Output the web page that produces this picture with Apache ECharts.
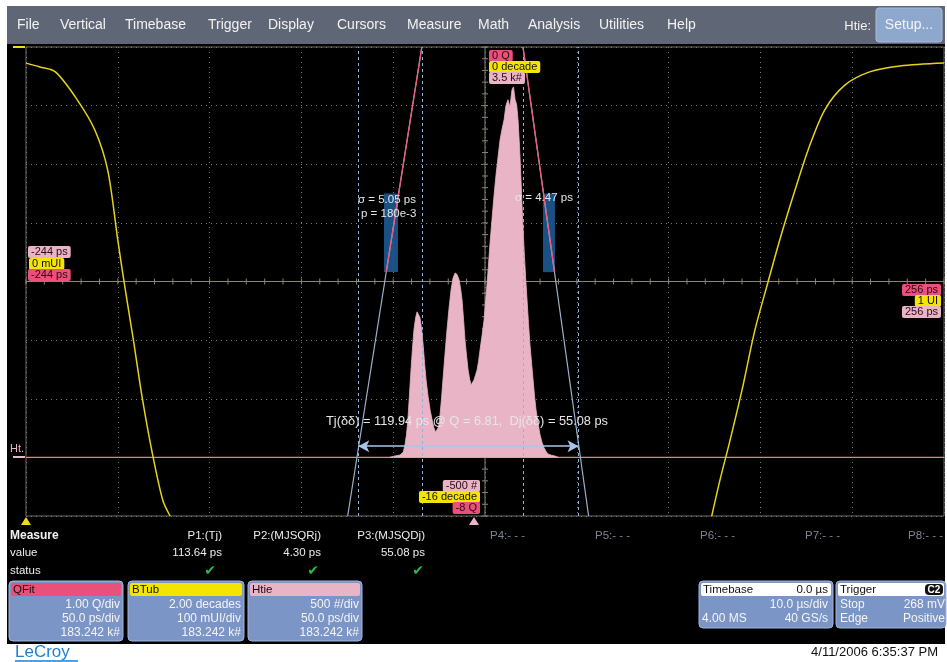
<!DOCTYPE html>
<html><head><meta charset="utf-8">
<script src="https://cdn.jsdelivr.net/npm/echarts@6/dist/echarts.min.js"></script>
<style>html,body{margin:0;padding:0;background:#fff}#c{width:947px;height:662px}</style>
</head><body><div id="c"></div>
<script>
const FONT = '"Liberation Sans", Arial, sans-serif';

// ---- Htie histogram: time interval error (ps) vs counts (#)
const htiePs = [-46, -43, -40.3, -38.5, -37.6, -36.8, -36.0, -35.2, -34.3, -33.5, -32.7, -31.8, -31.0, -30.2, -29.4, -28.5, -27.7, -26.9, -26.1, -25.0, -23.9, -22.8, -21.8, -20.9, -20.1, -19.3, -18.5, -17.7, -16.9, -15.8, -14.7, -13.6, -12.5, -11.4, -10.3, -9.2, -8.1, -7.3, -6.5, -5.7, -4.9, -4.0, -3.2, -2.4, -1.6, -0.8, 0.0, 0.8, 1.7, 2.5, 3.3, 4.4, 5.5, 6.6, 7.7, 8.7, 9.8, 10.9, 12.0, 13.1, 14.2, 15.3, 16.4, 17.4, 18.5, 19.6, 20.7, 21.5, 22.4, 23.2, 24.0, 24.8, 25.6, 26.4, 27.3, 28.1, 28.9, 29.7, 30.5, 31.4, 32.2, 33.0, 33.8, 34.9, 36.0, 37.1, 38.2, 39.3, 40.3, 42.2, 44.1, 46];
const htieCount = [0, 12, 20, 45, 106, 190, 319, 520, 746, 930, 1087, 1190, 1241, 1235, 1190, 1090, 960, 800, 660, 520, 404, 320, 251, 215, 208, 260, 362, 500, 660, 880, 1087, 1270, 1428, 1530, 1573, 1560, 1513, 1440, 1343, 1180, 1002, 860, 746, 670, 618, 625, 660, 700, 746, 820, 917, 1040, 1172, 1380, 1599, 1820, 2026, 2230, 2410, 2560, 2708, 2800, 2880, 3000, 3050, 2990, 3135, 3160, 3050, 3010, 2880, 2650, 2367, 2060, 1769, 1540, 1343, 1140, 960, 800, 660, 520, 404, 290, 191, 125, 80, 50, 29, 18, 12, 0];

// ---- BTub bathtub curve: UI vs log10(BER) decades
const btubLeftUI   = [0.000, 0.015, 0.032, 0.056, 0.075, 0.089, 0.100, 0.107, 0.117, 0.127, 0.138, 0.149, 0.157];
const btubLeftDec  = [-0.55, -0.68, -0.85, -1.81, -2.83, -4.20, -6.59, -8.05, -10.0, -12.04, -13.92, -15.46, -16.0];
const btubRightUI  = [0.747, 0.756, 0.767, 0.780, 0.794, 0.808, 0.821, 0.836, 0.852, 0.870, 0.892, 0.919, 0.952, 1.000];
const btubRightDec = [-16.0, -14.77, -13.41, -11.70, -9.66, -8.05, -6.59, -5.05, -3.51, -2.15, -1.30, -0.85, -0.65, -0.55];

// ---- QFit: Q-scale fitted lines (ps, Q)
const fitLeftPs  = [-68.8, -28.4];  const fitLeftQ  = [-8, 0];
const fitRightPs = [26.68, 62.44];  const fitRightQ = [0, -8];
const qLeftPs  = [-28.4, -47.8];    const qLeftQ  = [0, -3.84];
const qRightPs = [26.68, 43.9];     const qRightQ = [0, -3.84];
const fitRegionLeft  = [-49.0, -41.4, -2.5, -3.84];
const fitRegionRight = [37.6, 44.1, -2.5, -3.84];
const cursorPs = [-63.0, -28.4, 26.68, 56.94];
const tjSpanPs = [-63.0, 56.94];
const tjQ = -6.81;
const histZero = 0;
const psRange = [-244, 256];

// ---- Measurement table
const measNames  = ['P1:(Tj)', 'P2:(MJSQRj)', 'P3:(MJSQDj)'];
const measValues = ['113.64 ps', '4.30 ps', '55.08 ps'];
const emptyParams = ['P4:- - -', 'P5:- - -', 'P6:- - -', 'P7:- - -', 'P8:- - -'];
const menuItems = ['File', 'Vertical', 'Timebase', 'Trigger', 'Display', 'Cursors', 'Measure', 'Math', 'Analysis', 'Utilities', 'Help'];

const pair = (xs, ys) => xs.map((x, i) => [x, ys[i]]);

const HOT = '#e9507a', LPINK = '#e8b4c6', YEL = '#f5e400';

function txt(x, y, text, o) {
  o = o || {};
  return {type: 'text', x: x, y: y, z: o.z || 100, silent: true, style: {
    text: text, fill: o.fill || '#ececec', font: (o.bold ? 'bold ' : '') + (o.size || 12) + 'px ' + (o.family || FONT),
    align: o.align || 'left', textAlign: o.align || 'left', verticalAlign: 'middle', textVerticalAlign: 'middle',
    backgroundColor: o.bg, padding: o.bg ? [1, 3, 0, 3] : 0, borderRadius: o.bg ? 2 : 0
  }};
}
function rect(x, y, w, h, fill, o) {
  o = o || {};
  return {type: 'rect', z: o.z || 90, silent: true, shape: {x: x, y: y, width: w, height: h, r: o.r || 0},
    style: {fill: fill, stroke: o.stroke || null, lineWidth: o.stroke ? 1 : 0}};
}

const g = [];
// screen background
g.push(rect(7, 44, 938, 600, '#000', {z: -10}));
// menu bar
g.push(rect(7, 6, 938, 38, '#5f6777', {z: 90}));
const menuX = [17, 60, 125, 208, 268, 337, 407, 478, 528, 599, 667];
menuItems.forEach((m, i) => g.push(txt(menuX[i], 25, m, {size: 14, fill: '#f2f2f2'})));
g.push(txt(871, 26, 'Htie:', {size: 13, fill: '#f2f2f2', align: 'right'}));
g.push(rect(876, 8, 66, 34, '#8ea7cd', {r: 3, stroke: '#a8bcdc'}));
g.push(txt(909, 25, 'Setup...', {size: 14, fill: '#f4f4f4', align: 'center'}));

// trace markers
g.push(rect(13, 46, 12, 2, '#f0dc1a', {z: 101}));
g.push({type: 'text', x: 8, y: 61, z: 101, style: {text: 'BT.', font: 'bold 11px ' + FONT, verticalAlign: 'middle', textVerticalAlign: 'middle',
  fill: {type: 'linear', x: 0, y: 0, x2: 0, y2: 1, colorStops: [{offset: 0, color: '#f4e03a'}, {offset: 1, color: '#e8405a'}]}}});
g.push(txt(10, 449, 'Ht.', {size: 11, fill: LPINK}));
g.push(rect(13, 456, 12, 2, LPINK, {z: 101}));
g.push({type: 'polygon', z: 101, shape: {points: [[26, 517], [21, 525], [31, 525]]}, style: {fill: '#f0dc1a'}});
g.push({type: 'polygon', z: 101, shape: {points: [[474, 517], [469, 525], [479, 525]]}, style: {fill: LPINK}});

// scale tags
g.push(txt(28, 252, '-244 ps', {size: 11, fill: '#2a0a14', bg: LPINK}));
g.push(txt(29, 264, '0 mUI', {size: 11, fill: '#111', bg: YEL}));
g.push(txt(28, 275, '-244 ps', {size: 11, fill: '#2a0a14', bg: HOT}));
g.push(txt(941, 290, '256 ps', {size: 11, fill: '#2a0a14', bg: HOT, align: 'right'}));
g.push(txt(941, 301, '1 UI', {size: 11, fill: '#111', bg: YEL, align: 'right'}));
g.push(txt(941, 312, '256 ps', {size: 11, fill: '#2a0a14', bg: LPINK, align: 'right'}));
g.push(txt(489, 56, '0 Q', {size: 11, fill: '#2a0a14', bg: HOT}));
g.push(txt(489, 67, '0 decade', {size: 11, fill: '#111', bg: YEL}));
g.push(txt(489, 78, '3.5 k#', {size: 11, fill: '#2a0a14', bg: LPINK}));
g.push(txt(480, 486, '-500 #', {size: 11, fill: '#2a0a14', bg: LPINK, align: 'right'}));
g.push(txt(480, 497, '-16 decade', {size: 11, fill: '#111', bg: YEL, align: 'right'}));
g.push(txt(480, 508, '-8 Q', {size: 11, fill: '#2a0a14', bg: HOT, align: 'right'}));

// annotations
g.push(txt(358, 200, '\u03c3 = 5.05 ps', {size: 11.5, fill: '#e6e6e6'}));
g.push(txt(361, 214, 'p = 180e-3', {size: 11.5, fill: '#e6e6e6'}));
g.push(txt(515, 198, '\u03c3 = 4.47 ps', {size: 11.5, fill: '#e6e6e6'}));
g.push(txt(467, 421, 'Tj(\u03b4\u03b4) = 119.94 ps @ Q = 6.81,  Dj(\u03b4\u03b4) = 55.08 ps', {size: 12.8, fill: '#e6e6e6', align: 'center'}));

// measure table
g.push(txt(10, 536, 'Measure', {size: 12, bold: true, fill: '#f2f2f2'}));
g.push(txt(10, 553, 'value', {size: 11.5}));
g.push(txt(10, 571, 'status', {size: 11.5}));
const measRight = [222, 321, 425];
const checkX = [210, 313, 418];
measNames.forEach((n, i) => {
  g.push(txt(measRight[i], 536, n, {size: 11.5, align: 'right'}));
  g.push(txt(measRight[i], 553, measValues[i], {size: 11.5, align: 'right'}));
  g.push(txt(checkX[i], 571, '\u2714', {size: 14, fill: '#35b24a', align: 'center', family: '"DejaVu Sans", sans-serif'}));
});
const emptyX = [490, 595, 700, 805, 908];
emptyParams.forEach((p, i) => g.push(txt(emptyX[i], 536, p, {size: 11.5, fill: '#7c8595'})));

// trace descriptor panels
function panel(x, w, color, title, lines) {
  g.push(rect(x, 581, w, 60, '#7b95c7', {r: 4, stroke: '#a3b6dc'}));
  g.push(rect(x + 2, 583, w - 4, 13, color, {r: 2, z: 91}));
  g.push(txt(x + 4, 590, title, {size: 11.5, fill: '#111'}));
  lines.forEach((l, i) => g.push(txt(x + w - 3, 605 + i * 14, l, {size: 12, fill: '#f4f4f4', align: 'right'})));
}
panel(9, 114, HOT, 'QFit', ['1.00 Q/div', '50.0 ps/div', '183.242 k#']);
panel(128, 116, YEL, 'BTub', ['2.00 decades', '100 mUI/div', '183.242 k#']);
panel(248, 114, LPINK, 'Htie', ['500 #/div', '50.0 ps/div', '183.242 k#']);

// timebase / trigger
g.push(rect(699, 581, 134, 47, '#7b95c7', {r: 4, stroke: '#a3b6dc'}));
g.push(rect(701, 583, 130, 13, '#fff', {r: 2, z: 91}));
g.push(txt(703, 590, 'Timebase', {size: 11.5, fill: '#111'}));
g.push(txt(828, 590, '0.0 \u00b5s', {size: 11.5, fill: '#111', align: 'right'}));
g.push(txt(828, 605, '10.0 \u00b5s/div', {size: 12, fill: '#f4f4f4', align: 'right'}));
g.push(txt(702, 619, '4.00 MS', {size: 12, fill: '#f4f4f4'}));
g.push(txt(828, 619, '40 GS/s', {size: 12, fill: '#f4f4f4', align: 'right'}));
g.push(rect(836, 581, 110, 47, '#7b95c7', {r: 4, stroke: '#a3b6dc'}));
g.push(rect(838, 583, 106, 13, '#fff', {r: 2, z: 91}));
g.push(txt(840, 590, 'Trigger', {size: 11.5, fill: '#111'}));
g.push(rect(925, 584, 18, 11, '#111', {r: 4, z: 92}));
g.push(txt(934, 590, 'C2', {size: 10, bold: true, fill: '#fff', align: 'center'}));
g.push(txt(840, 605, 'Stop', {size: 12, fill: '#f4f4f4'}));
g.push(txt(945, 605, '268 mV', {size: 12, fill: '#f4f4f4', align: 'right'}));
g.push(txt(840, 619, 'Edge', {size: 12, fill: '#f4f4f4'}));
g.push(txt(945, 619, 'Positive', {size: 12, fill: '#f4f4f4', align: 'right'}));

// footer
g.push(txt(15, 652, 'LeCroy', {size: 17, fill: '#1e7fd4'}));
g.push({type: 'line', z: 100, shape: {x1: 15, y1: 661, x2: 78, y2: 661}, style: {stroke: '#1e7fd4', lineWidth: 1.5}});
g.push(txt(938, 652, '4/11/2006 6:35:37 PM', {size: 13, fill: '#111', align: 'right'}));

const GRIDC = '#6f6d60';
const dotted = {show: true, lineStyle: {color: '#7a7a7a', type: [1, 4], width: 1}};

const option = {
  animation: false,
  backgroundColor: '#fff',
  grid: {left: 26, top: 47, width: 918, height: 469, show: true, backgroundColor: '#000', borderColor: GRIDC, borderWidth: 1},
  xAxis: [
    {type: 'value', min: 0, max: 10, interval: 1, axisLabel: {show: false}, axisTick: {show: false}, axisLine: {show: false}, splitLine: dotted},
    {type: 'value', min: psRange[0], max: psRange[1], show: false},
    {type: 'value', min: 0, max: 1, show: false}
  ],
  yAxis: [
    {type: 'value', min: 0, max: 8, interval: 1, axisLabel: {show: false}, axisTick: {show: false}, axisLine: {show: false}, splitLine: dotted},
    {type: 'value', min: -500, max: 3500, show: false, splitLine: {show: false}},
    {type: 'value', min: -16, max: 0, show: false, splitLine: {show: false}},
    {type: 'value', min: -8, max: 0, show: false, splitLine: {show: false}}
  ],
  graphic: g,
  series: [
    {
      type: 'custom', xAxisIndex: 0, yAxisIndex: 0, z: 1, silent: true, data: [[5, 4]],
      renderItem: function (params, api) {
        const c = api.coord([5, 4]);
        const tl = api.coord([0, 8]), br = api.coord([10, 0]);
        const st = {stroke: '#8a8672', lineWidth: 1};
        const ch = [
          {type: 'line', shape: {x1: c[0], y1: tl[1], x2: c[0], y2: br[1]}, style: st},
          {type: 'line', shape: {x1: tl[0], y1: c[1], x2: br[0], y2: c[1]}, style: st}
        ];
        for (let k = 0; k <= 40; k++) {
          const y = api.coord([5, k * 0.2])[1];
          ch.push({type: 'line', shape: {x1: c[0] - 3, y1: y, x2: c[0] + 3, y2: y}, style: st});
        }
        for (let k = 0; k <= 50; k++) {
          const x = api.coord([k * 0.2, 4])[0];
          ch.push({type: 'line', shape: {x1: x, y1: c[1] - 3, x2: x, y2: c[1] + 3}, style: st});
        }
        return {type: 'group', children: ch};
      }
    },
    {
      name: 'HtLevel', type: 'line', xAxisIndex: 1, yAxisIndex: 1, z: 2, silent: true,
      data: [[psRange[0], histZero], [psRange[1], histZero]], symbol: 'none', showSymbol: false,
      itemStyle: {color: '#e3886a'},
      lineStyle: {color: '#e3886a', width: 1.2, type: 'solid'}
    },
    {
      name: 'Htie', type: 'line', xAxisIndex: 1, yAxisIndex: 1, z: 3, silent: true,
      data: pair(htiePs, htieCount), showSymbol: false, symbol: 'none',
      lineStyle: {color: LPINK, width: 0.8}, areaStyle: {color: LPINK, opacity: 1},
      markLine: {
        silent: true, symbol: 'none', label: {show: false},
        lineStyle: {color: '#8fb3df', width: 1, type: [3, 3]},
        data: cursorPs.map(v => ({xAxis: v}))
      }
    },
    {
      name: 'QFitL', type: 'line', xAxisIndex: 1, yAxisIndex: 3, z: 4, silent: true,
      data: pair(fitLeftPs, fitLeftQ), showSymbol: false, symbol: 'none',
      lineStyle: {color: '#9fb2cc', width: 1.2},
      markArea: {silent: true, itemStyle: {color: '#1d5a92', opacity: 0.9},
        data: [
          [{coord: [fitRegionLeft[0], fitRegionLeft[2]]}, {coord: [fitRegionLeft[1], fitRegionLeft[3]]}],
          [{coord: [fitRegionRight[0], fitRegionRight[2]]}, {coord: [fitRegionRight[1], fitRegionRight[3]]}]
        ]},
      markLine: {silent: true, symbol: ['arrow', 'arrow'], symbolSize: [9, 11], label: {show: false},
        lineStyle: {color: '#a9c6ea', width: 1.5, type: 'solid'},
        data: [[{coord: [tjSpanPs[0], tjQ]}, {coord: [tjSpanPs[1], tjQ]}]]}
    },
    {
      name: 'QFitR', type: 'line', xAxisIndex: 1, yAxisIndex: 3, z: 4, silent: true,
      data: pair(fitRightPs, fitRightQ), showSymbol: false, symbol: 'none',
      lineStyle: {color: '#9fb2cc', width: 1.2}
    },
    {
      name: 'QL', type: 'line', xAxisIndex: 1, yAxisIndex: 3, z: 6, silent: true,
      data: pair(qLeftPs, qLeftQ), showSymbol: false, symbol: 'none',
      lineStyle: {color: '#ec5a7c', width: 1.3}
    },
    {
      name: 'QR', type: 'line', xAxisIndex: 1, yAxisIndex: 3, z: 6, silent: true,
      data: pair(qRightPs, qRightQ), showSymbol: false, symbol: 'none',
      lineStyle: {color: '#ec5a7c', width: 1.3}
    },
    {
      name: 'BTubL', type: 'line', xAxisIndex: 2, yAxisIndex: 2, z: 5, silent: true,
      data: pair(btubLeftUI, btubLeftDec), showSymbol: false, symbol: 'none',
      smooth: 0.3,
      lineStyle: {color: '#e6d21c', width: 1.5}
    },
    {
      name: 'BTubR', type: 'line', xAxisIndex: 2, yAxisIndex: 2, z: 5, silent: true,
      data: pair(btubRightUI, btubRightDec), showSymbol: false, symbol: 'none',
      smooth: 0.3,
      lineStyle: {color: '#e6d21c', width: 1.5}
    }
  ]
};
echarts.init(document.getElementById('c')).setOption(option);
</script>
</body></html>
